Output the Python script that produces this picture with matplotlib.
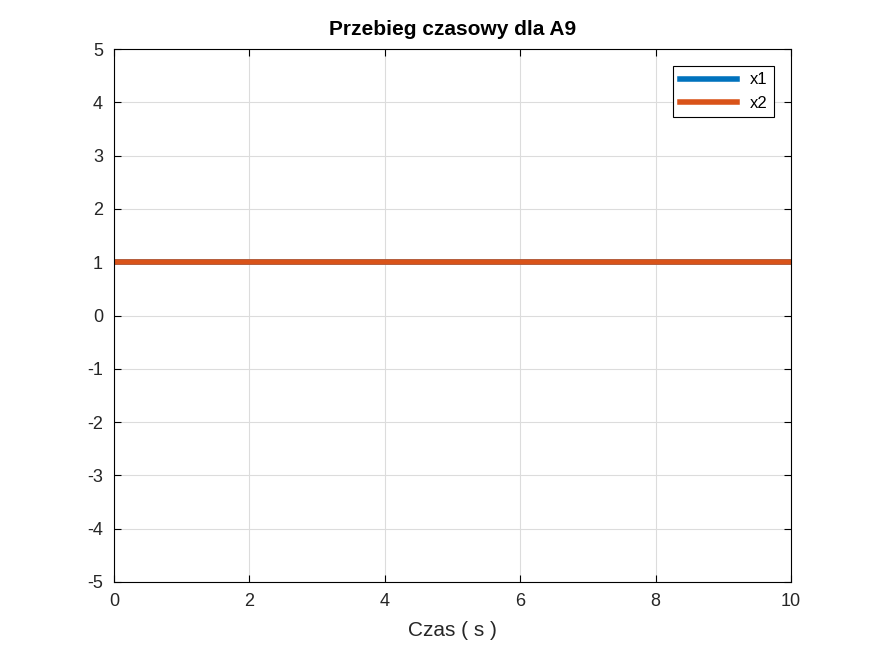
import matplotlib.pyplot as plt

# data
czas = [0, 10]
x1 = [1, 1]
x2 = [1, 1]

plt.rcParams['font.family'] = ['Liberation Sans', 'DejaVu Sans']
plt.rcParams['axes.unicode_minus'] = False

fig = plt.figure(figsize=(8.75, 6.56), dpi=100)
ax = fig.add_axes([114 / 875, 1 - 582 / 656, 677 / 875, 533 / 656])

ax.plot(czas, x1, color='#0072BD', linewidth=4, label='x1')
ax.plot(czas, x2, color='#D95319', linewidth=4, label='x2')

ax.set_xlim(0, 10)
ax.set_ylim(-5, 5)
ax.set_xticks(range(0, 11, 2))
ax.set_yticks(range(-5, 6))
ax.grid(True, color='#dcdcdc', linewidth=0.8)
ax.tick_params(labelsize=13, direction='in', length=5, top=True, right=True,
               labelcolor='#262626', pad=8)
for s in ax.spines.values():
    s.set_linewidth(0.8)

ax.set_xlabel('Czas ( s )', fontsize=15, color='#262626', labelpad=8)
ax.set_title('Przebieg czasowy dla A9', fontsize=15, fontweight='bold', pad=10)
leg = ax.legend(loc='upper right', fontsize=12, fancybox=False, framealpha=1,
                edgecolor='black', handlelength=3.4, borderaxespad=1.0)
leg.get_frame().set_linewidth(0.8)

fig.savefig('out.png', dpi=100)
